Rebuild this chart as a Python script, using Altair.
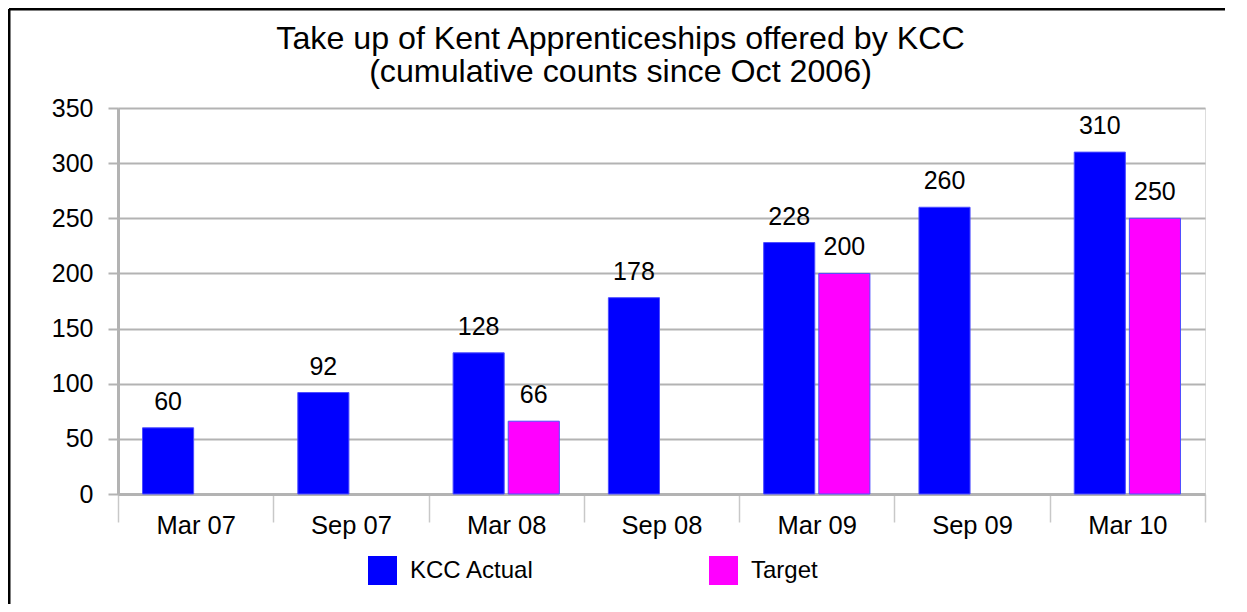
import altair as alt
import pandas as pd

periods = ["Mar 07", "Sep 07", "Mar 08", "Sep 08", "Mar 09", "Sep 09", "Mar 10"]
actual = [60, 92, 128, 178, 228, 260, 310]
target = [None, None, 66, None, 200, None, 250]
series = ["KCC Actual", "Target"]
colors = ["#0000FF", "#FF00FF"]
y_ticks = [0, 50, 100, 150, 200, 250, 300, 350]

rows = []
for p, a, t in zip(periods, actual, target):
    rows.append({"period": p, "series": series[0], "value": a})
    if t is not None:
        rows.append({"period": p, "series": series[1], "value": t})
df = pd.DataFrame(rows)

FONT = "Liberation Sans"
W, H = 1087, 386

x_enc = alt.X("period:N", sort=periods, title=None,
              scale=alt.Scale(paddingInner=0, paddingOuter=0),
              axis=alt.Axis(labelAngle=0, labelFontSize=25.5, labelFont=FONT, labelColor="black",
                            tickBand="extent", tickSize=28, tickColor="#c8c8c8", tickWidth=1.5,
                            domainColor="#b3b3b3", domainWidth=3, labelPadding=-9, grid=False))
xo_enc = alt.XOffset("series:N", sort=series,
                     scale=alt.Scale(paddingInner=0.073, paddingOuter=0.445))
y_enc = alt.Y("value:Q", title=None,
              scale=alt.Scale(domain=[0, 350], nice=False),
              axis=alt.Axis(values=y_ticks, labelFontSize=25, labelFont=FONT, labelColor="black",
                            tickSize=10, tickColor="#b3b3b3", tickWidth=2,
                            domainColor="#b3b3b3", domainWidth=3, labelPadding=15,
                            gridColor="#b3b3b3", gridWidth=2))

base = alt.Chart(df)

bars = base.mark_bar(stroke="#4d4dff", strokeWidth=1).encode(
    x=x_enc,
    xOffset=xo_enc,
    y=y_enc,
    color=alt.Color("series:N", sort=series,
                    scale=alt.Scale(domain=series, range=colors),
                    legend=alt.Legend(title=None, orient="none", legendX=250, legendY=448,
                                      direction="horizontal", columns=2, columnPadding=174,
                                      symbolType="square", symbolSize=841, symbolStrokeWidth=0,
                                      labelFontSize=24, labelFont=FONT, labelColor="black",
                                      labelOffset=13, padding=0)),
)

labels = base.mark_text(font=FONT, fontSize=25, color="black", baseline="alphabetic", dy=-18).encode(
    x=alt.X("period:N", sort=periods),
    xOffset=alt.XOffset("series:N", sort=series),
    y=alt.Y("value:Q"),
    text=alt.Text("value:Q"),
)

frame_data = alt.Data(values=[{"a": 1}])
frame_left = alt.Chart(frame_data).mark_rule(color="black", strokeWidth=3).encode(
    x=alt.value(-109), y=alt.value(-99), y2=alt.value(H + 300),
)
frame_top = alt.Chart(frame_data).mark_rule(color="black", strokeWidth=3).encode(
    x=alt.value(-109), x2=alt.value(W + 300), y=alt.value(-99),
)

chart = alt.layer(bars, labels, frame_left, frame_top).properties(
    width=W, height=H,
    title=alt.Title(
        text=["Take up of Kent Apprenticeships offered by KCC", "(cumulative counts since Oct 2006)"],
        font=FONT, fontSize=32.2, fontWeight="normal", color="black",
        anchor="middle", dx=-41, offset=-82, lineHeight=33,
    ),
    autosize=alt.AutoSizeParams(type="none"),
    padding={"left": 110, "top": 100, "right": 20, "bottom": 110},
).configure_view(
    stroke="#b3b3b3", strokeWidth=2
).configure(background="white")

chart.save("out.html", embed_options={"renderer": "svg", "actions": False})
